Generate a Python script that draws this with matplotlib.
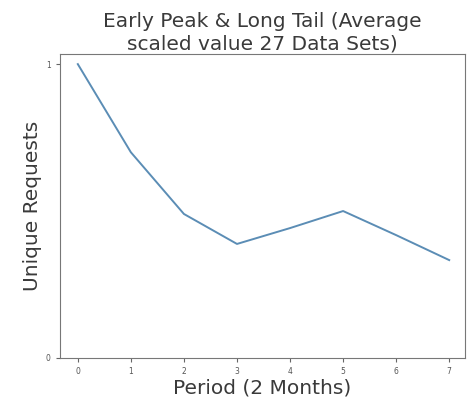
import matplotlib
matplotlib.use("Agg")
import matplotlib.pyplot as plt

periods = [0, 1, 2, 3, 4, 5, 6, 7]
scaled_requests = [1.0, 0.70, 0.49, 0.388, 0.442, 0.50, 0.418, 0.333]
y_ticks = [0, 1]

fig = plt.figure(figsize=(4.67, 4.04), dpi=100)
ax = fig.add_axes([0.128, 0.114, 0.868, 0.752])
ax.plot(periods, scaled_requests, color="#5b8db5", linewidth=1.4)

ax.set_xlim(-0.34, 7.3)
ax.set_ylim(0, 1.034)
ax.set_xticks(periods)
ax.set_yticks(y_ticks)
ax.tick_params(labelsize=5.5, labelcolor="#555555", length=3, color="#666666")
for s in ax.spines.values():
    s.set_color("#777777")

ax.set_title("Early Peak & Long Tail (Average\nscaled value 27 Data Sets)",
             fontsize=14.5, color="#3a3a3a", pad=3, linespacing=1.25)
ax.set_xlabel("Period (2 Months)", fontsize=14.5, color="#3a3a3a", labelpad=2)
ax.set_ylabel("Unique Requests", fontsize=14.5, color="#3a3a3a", labelpad=3)

fig.savefig("out.png", dpi=100)
